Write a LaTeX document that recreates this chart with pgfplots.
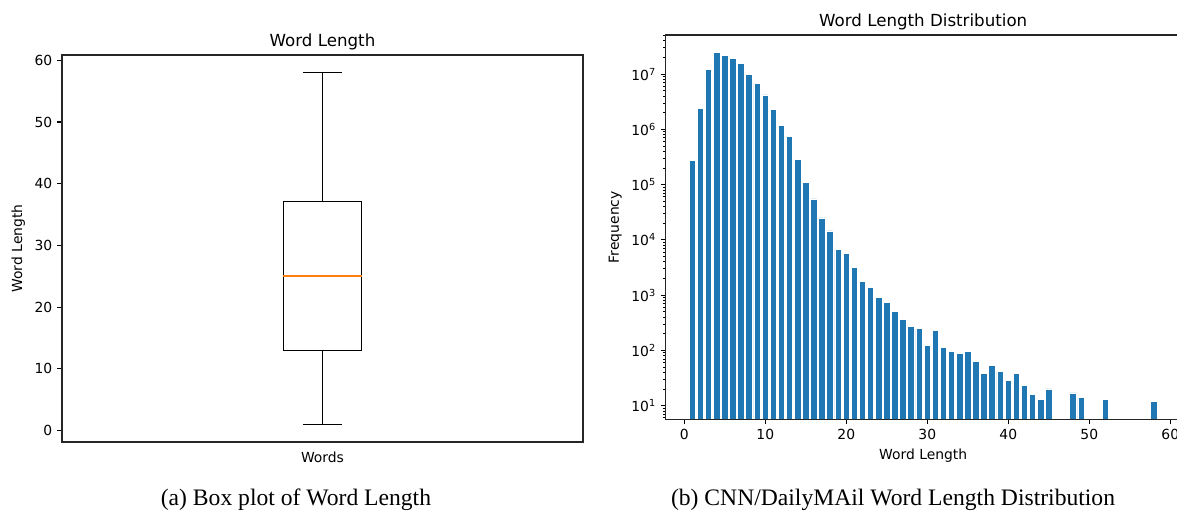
\documentclass[border=0pt]{standalone}
\usepackage{fontspec}
\setmainfont{DejaVu Sans}
\newfontfamily\capfont{Liberation Serif}
\usepackage{pgfplots}
\pgfplotsset{compat=1.18}
\usepgfplotslibrary{statistics}
\definecolor{mplblue}{HTML}{1F77B4}
\definecolor{mplorange}{HTML}{FF7F0E}

% 1 px of the reference = 0.72pt
\pgfplotsset{
  mpl/.style={
    scale only axis, axis on top,
    axis line style={line width=0.8pt, black!85},
    tick align=outside, tick pos=left,
    major tick length=3.5pt, minor tick length=2pt,
    every tick/.style={black, line width=0.8pt},
    every minor tick/.append style={line width=0.6pt},
    tick label style={font=\fontsize{10}{12}\selectfont},
    label style={font=\fontsize{10}{12}\selectfont},
    title style={font=\fontsize{12}{14}\selectfont, yshift=-5.8pt},
    /pgf/number format/assume math mode=true,
  },
}

\pgfplotstableread{
len freq
1 270000
2 2400000
3 12300000
4 24500000
5 21800000
6 19000000
7 15400000
8 10000000
9 6800000
10 4200000
11 2300000
12 1190000
13 750000
14 290000
15 110000
16 55000
17 25000
18 14500
19 6600
20 5600
21 3200
22 1800
23 1360
24 920
25 730
26 515
27 365
28 268
29 246
30 123
31 226
32 113
33 96
34 88
35 96
36 64
37 38
38 54
39 42
40 29
41 38
42 23
43 16
44 13
45 20
48 17
49 14
52 13
58 12
}\lengths

\begin{document}
\begin{tikzpicture}
\useasboundingbox (0,0) rectangle (847.44pt,370.08pt);

% (a) box plot
\begin{axis}[mpl,
  at={(44.64pt,51.84pt)}, anchor=south west,
  width=375.12pt, height=278.64pt,
  xmin=0.5, xmax=1.5, ymin=-1.85, ymax=60.85,
  xtick={1}, xticklabels={Words}, xtick style={draw=none},
  ytick={0,10,...,60},
  ylabel={Word Length},
  title={Word Length},
  boxplot/every box/.style={draw=black, /tikz/line width=1.1pt},
  boxplot/every whisker/.style={draw=black, /tikz/line width=1.1pt},
  boxplot/every median/.style={draw=mplorange, /tikz/line width=1.2pt},
]
\addplot[black, line width=1.1pt,
  boxplot prepared={draw position=1, draw direction=y,
    lower whisker=1, lower quartile=13, median=25,
    upper quartile=37.1, upper whisker=58,
    box extend=0.15, whisker extend=0.075},
] coordinates {};
\end{axis}

% (b) histogram
\begin{axis}[mpl,
  at={(479.3pt,68.18pt)}, anchor=south west,
  width=370.8pt, height=276.7pt,
  ymode=log, log origin=infty,
  xmin=-2.29, xmax=61.29, ymin=5.65, ymax=5.1e7,
  xtick={0,10,...,60},
  ytick={10,100,1000,10000,100000,1000000,10000000},
  yticklabels={10\textsuperscript{1},10\textsuperscript{2},10\textsuperscript{3},10\textsuperscript{4},10\textsuperscript{5},10\textsuperscript{6},10\textsuperscript{7}},
  minor ytick={6,7,8,9,20,30,40,50,60,70,80,90,200,300,400,500,600,700,800,900,2000,3000,4000,5000,6000,7000,8000,9000,20000,30000,40000,50000,60000,70000,80000,90000,200000,300000,400000,500000,600000,700000,800000,900000,2000000,3000000,4000000,5000000,6000000,7000000,8000000,9000000,20000000,30000000,40000000,50000000},
  xlabel={Word Length}, ylabel={Frequency},
  title={Word Length Distribution},
]
\addplot[ybar, bar width=0.8, fill=mplblue, draw=white, line width=0.5pt]
  table[x=len, y=freq] {\lengths};
\end{axis}

\node[anchor=base, font=\capfont\fontsize{17}{20}\selectfont] at (213.1pt,5.8pt) {(a) Box plot of Word Length};
\node[anchor=base, font=\capfont\fontsize{17}{20}\selectfont] at (643pt,5.8pt) {(b) CNN/DailyMAil Word Length Distribution};
\end{tikzpicture}
\end{document}
